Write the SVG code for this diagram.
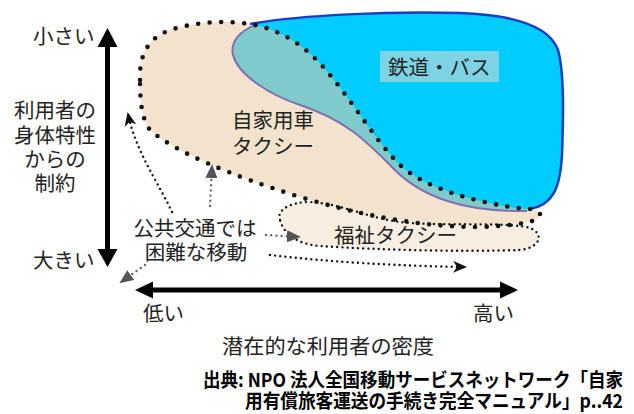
<svg xmlns="http://www.w3.org/2000/svg" width="634" height="414" viewBox="0 0 634 414">
<style>
text{font-family:"Noto Sans CJK JP","Noto Sans",sans-serif;font-size:20.5px;fill:#222}
.src{font-weight:bold;font-size:19px;fill:#000}
.bigdots{fill:none;stroke:#111;stroke-width:4.6;stroke-linecap:round;stroke-dasharray:0 11.5}
.smalldots{fill:none;stroke:#111;stroke-width:2.4;stroke-linecap:round;stroke-dasharray:0 5.2}
.graydots{fill:none;stroke:#666;stroke-width:2.4;stroke-linecap:round;stroke-dasharray:0 5.2}
.axis{stroke:#000;stroke-width:5;fill:none}
</style>
<defs>
<marker id="chev" viewBox="0 0 14 12" refX="12" refY="6" markerWidth="14" markerHeight="12" markerUnits="userSpaceOnUse" orient="auto">
<path d="M0,0 L14,6 L0,12 L4,6 Z" fill="#111"/>
</marker>
<marker id="tri" viewBox="0 0 14 12" refX="12" refY="6" markerWidth="14" markerHeight="12" markerUnits="userSpaceOnUse" orient="auto">
<path d="M0,0 L14,6 L0,12 Z" fill="#555"/>
</marker>
</defs>
<rect width="634" height="414" fill="#fff"/>

<g id="car-taxi-fill">
<path d="M140,80 C139,55 148,38 170,30 C195,22 225,20 250,24 C285,30 310,50 330,75 C355,105 375,140 400,165 C425,188 470,200 510,207 C525,209 538,208 540,214 C541,222 520,225 480,227 C420,227 360,215 300,197 C230,175 175,152 150,130 C141,118 140,98 140,80 Z" fill="#F3E3CC"/>
</g>

<g id="welfare-taxi">
<path d="M280,220 C276,210 290,202 310,202 C345,204 370,220 410,223 C460,226 510,222 530,228 C545,234 540,248 520,250 C460,252 380,250 320,246 C295,244 283,232 280,220 Z" fill="#F8EDE1"/>
<path class="smalldots" d="M280,220 C276,210 290,202 310,202 C345,204 370,220 410,223 C460,226 510,222 530,228 C545,234 540,248 520,250 C460,252 380,250 320,246 C295,244 283,232 280,220 Z"/>
<text x="334" y="243">福祉タクシー</text>
</g>

<g id="car-overlap">
<path d="M258,24 C240,30 230,42 233,55 C238,75 270,95 300,105 C345,120 365,140 390,165 C420,198 465,212 527,211 L545,200 L400,15 Z" fill="#7FCACA"/>
<path d="M258,24 C240,30 230,42 233,55 C238,75 270,95 300,105 C345,120 365,140 390,165 C420,198 465,212 527,211" fill="none" stroke="#8070B4" stroke-width="2"/>
</g>

<g id="rail-bus">
<path d="M250,24 C300,15 390,11 460,13 C520,15 550,28 558,50 C565,75 563,125 562,155 C560,190 552,205 530,209 C520,209 515,208 510,207 C470,200 425,188 400,165 C375,140 355,105 330,75 C310,50 285,30 250,24 Z" fill="#00CCFF"/>
<path d="M250,24 C300,15 390,11 460,13 C520,15 550,28 558,50 C565,75 563,125 562,155 C560,190 552,205 530,209" fill="none" stroke="#1A3CC4" stroke-width="2.5"/>
<rect x="380" y="51" width="119" height="31" fill="#7DD3E3"/>
<text x="388" y="75">鉄道・バス</text>
</g>

<g id="car-taxi">
<path class="bigdots" d="M140,80 C139,55 148,38 170,30 C195,22 225,20 250,24 C285,30 310,50 330,75 C355,105 375,140 400,165 C425,188 470,200 510,207 C525,209 538,208 540,214 C541,222 520,225 480,227 C420,227 360,215 300,197 C230,175 175,152 150,130 C141,118 140,98 140,80 Z"/>
<text x="232" y="128">自家用車</text>
<text x="232" y="154">タクシー</text>
</g>

<g id="difficult-move">
<text x="195" y="236" text-anchor="middle">公共交通では</text>
<text x="196" y="260" text-anchor="middle">困難な移動</text>
</g>

<g id="connectors">
<path class="smalldots" d="M172,212 C158,182 136,152 128,114" marker-end="url(#chev)"/>
<path class="graydots" d="M210,206 L212,166" marker-end="url(#tri)"/>
<path class="graydots" d="M145,265 L121,282" marker-end="url(#tri)"/>
<path class="graydots" d="M266,235 L299,237" marker-end="url(#tri)"/>
<path class="smalldots" d="M270,255 C330,262 400,266 465,267" marker-end="url(#chev)"/>
</g>

<g id="axis-y">
<line class="axis" x1="107.5" y1="44" x2="107.5" y2="251"/>
<polygon points="107.5,28 97.5,47 117.5,47" fill="#000"/>
<polygon points="107.5,267 97.5,249 117.5,249" fill="#000"/>
<text x="33" y="44">小さい</text>
<text x="55" y="118" text-anchor="middle">利用者の</text>
<text x="55" y="143" text-anchor="middle">身体特性</text>
<text x="55" y="167" text-anchor="middle">からの</text>
<text x="55" y="191" text-anchor="middle">制約</text>
<text x="33" y="268">大きい</text>
</g>

<g id="axis-x">
<line class="axis" x1="150" y1="290" x2="503" y2="290"/>
<polygon points="135,290 153,281.5 153,298.5" fill="#000"/>
<polygon points="518,290 500,281.5 500,298.5" fill="#000"/>
<text x="143" y="321">低い</text>
<text x="473" y="321">高い</text>
<text x="222" y="354" textLength="212" lengthAdjust="spacingAndGlyphs">潜在的な利用者の密度</text>
</g>

<g id="source">
<text class="src" transform="translate(203,387) scale(0.83,1)" x="0" y="0" textLength="506" lengthAdjust="spacingAndGlyphs">出典: NPO 法人全国移動サービスネットワーク「自家</text>
<text class="src" transform="translate(245,408) scale(0.9,1)" x="0" y="0" textLength="420" lengthAdjust="spacingAndGlyphs">用有償旅客運送の手続き完全マニュアル」p..42</text>
</g>
</svg>
